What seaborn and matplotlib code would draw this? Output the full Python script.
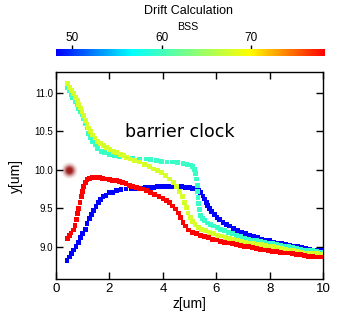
"""Drift calculation: BSS trajectories in the z-y plane (barrier clock)."""

import matplotlib

matplotlib.use("Agg")
import matplotlib.pyplot as plt
import pandas as pd
import seaborn as sns
from matplotlib.cm import ScalarMappable
from matplotlib.colors import LinearSegmentedColormap, Normalize

# ---------------------------------------------------------------------------
# Data
# ---------------------------------------------------------------------------
BSS_RANGE = (48.2, 78.3)
BSS_TICKS = [50, 60, 70]
X_TICKS = [0, 2, 4, 6, 8, 10]
Y_TICKS = [9.0, 9.5, 10.0, 10.5, 11.0]

# trajectory 1 (BSS ~48, blue)
blue_z = [0.41, 0.50, 0.59, 0.66, 0.75, 0.84, 0.91, 1.00, 1.09, 1.16, 1.24, 1.32,
          1.41, 1.50, 1.59, 1.67, 1.76, 1.87, 2.00, 2.12, 2.25, 2.43, 2.62, 2.81,
          3.00, 3.18, 3.35, 3.50, 3.65, 3.80, 3.95, 4.10, 4.25, 4.40, 4.55, 4.70,
          4.85, 5.00, 5.12, 5.24, 5.33, 5.42, 5.50, 5.56, 5.62, 5.68, 5.75, 5.83,
          5.92, 6.02, 6.13, 6.25, 6.38, 6.50, 6.65, 6.80, 6.95, 7.10, 7.25, 7.40,
          7.55, 7.70, 7.85, 8.00, 8.15, 8.30, 8.45, 8.60, 8.75, 8.90, 9.05, 9.20,
          9.35, 9.50, 9.65, 9.80, 9.95]
blue_y = [8.82, 8.87, 8.91, 8.96, 9.01, 9.06, 9.12, 9.17, 9.23, 9.30, 9.37, 9.42,
          9.47, 9.52, 9.57, 9.61, 9.65, 9.67, 9.70, 9.71, 9.73, 9.74, 9.75, 9.76,
          9.76, 9.76, 9.77, 9.77, 9.77, 9.78, 9.78, 9.78, 9.78, 9.78, 9.78, 9.78,
          9.77, 9.77, 9.76, 9.75, 9.73, 9.70, 9.66, 9.62, 9.58, 9.54, 9.50, 9.46,
          9.42, 9.38, 9.35, 9.32, 9.29, 9.27, 9.24, 9.21, 9.19, 9.17, 9.15, 9.13,
          9.12, 9.10, 9.09, 9.08, 9.06, 9.05, 9.04, 9.03, 9.02, 9.01, 9.00, 8.99,
          8.98, 8.97, 8.96, 8.95, 8.95]

# trajectory 2 (BSS ~59.5, turquoise)
cyan_z = [0.44, 0.50, 0.56, 0.62, 0.71, 0.79, 0.85, 0.91, 0.97, 1.04, 1.10, 1.16,
          1.22, 1.29, 1.37, 1.47, 1.56, 1.69, 1.81, 2.00, 2.18, 2.37, 2.62, 2.87,
          3.12, 3.37, 3.55, 3.75, 3.95, 4.15, 4.35, 4.55, 4.75, 4.90, 5.02, 5.12,
          5.19, 5.23, 5.26, 5.28, 5.29, 5.31, 5.33, 5.36, 5.40, 5.47, 5.56, 5.66,
          5.78, 5.90, 6.03, 6.16, 6.30, 6.45, 6.60, 6.75, 6.90, 7.05, 7.20, 7.35,
          7.50, 7.65, 7.80, 7.95, 8.10, 8.25, 8.40, 8.55, 8.70, 8.85, 9.00, 9.15,
          9.30, 9.45, 9.60, 9.75, 9.90, 10.0]
cyan_y = [11.06, 11.02, 10.97, 10.93, 10.88, 10.84, 10.79, 10.75, 10.71, 10.66,
          10.60, 10.54, 10.47, 10.41, 10.36, 10.32, 10.28, 10.24, 10.22, 10.20,
          10.18, 10.17, 10.16, 10.15, 10.14, 10.14, 10.13, 10.12, 10.11, 10.10,
          10.10, 10.09, 10.08, 10.07, 10.06, 10.04, 10.00, 9.95, 9.88, 9.80, 9.72,
          9.64, 9.56, 9.48, 9.41, 9.37, 9.34, 9.31, 9.29, 9.27, 9.25, 9.23, 9.21,
          9.19, 9.17, 9.15, 9.13, 9.11, 9.10, 9.09, 9.08, 9.07, 9.06, 9.05, 9.04,
          9.03, 9.02, 9.01, 9.00, 8.99, 8.98, 8.97, 8.96, 8.95, 8.95, 8.94, 8.93,
          8.93]

# trajectory 3 (BSS ~68, yellow-green)
yellow_z = [0.44, 0.50, 0.59, 0.66, 0.72, 0.79, 0.85, 0.91, 0.97, 1.04, 1.10,
            1.16, 1.22, 1.29, 1.37, 1.46, 1.56, 1.66, 1.77, 1.90, 2.02, 2.15,
            2.27, 2.40, 2.52, 2.65, 2.77, 2.93, 3.12, 3.31, 3.50, 3.65, 3.80,
            3.95, 4.10, 4.25, 4.40, 4.52, 4.62, 4.72, 4.80, 4.87, 4.94, 5.02,
            5.10, 5.20, 5.32, 5.45, 5.60, 5.75, 5.90, 6.05, 6.20, 6.35, 6.50,
            6.65, 6.80, 6.95, 7.10, 7.25, 7.40, 7.55, 7.70, 7.85, 8.00, 8.15,
            8.30, 8.45, 8.60, 8.75, 8.90, 9.05, 9.20, 9.35, 9.50, 9.65, 9.80,
            9.95]
yellow_y = [11.12, 11.07, 11.03, 10.99, 10.94, 10.90, 10.85, 10.80, 10.75, 10.70,
            10.64, 10.59, 10.54, 10.49, 10.45, 10.41, 10.37, 10.34, 10.31, 10.29,
            10.26, 10.24, 10.22, 10.20, 10.18, 10.16, 10.14, 10.12, 10.10, 10.07,
            10.04, 10.01, 9.99, 9.96, 9.92, 9.88, 9.83, 9.78, 9.72, 9.65, 9.58,
            9.51, 9.44, 9.38, 9.33, 9.29, 9.25, 9.23, 9.21, 9.19, 9.17, 9.15, 9.14,
            9.12, 9.11, 9.10, 9.08, 9.07, 9.06, 9.05, 9.04, 9.03, 9.03, 9.02, 9.01,
            9.00, 8.99, 8.98, 8.97, 8.96, 8.95, 8.94, 8.93, 8.92, 8.92, 8.91, 8.91,
            8.90]

# trajectory 4 (BSS ~78, red)
red_z = [0.44, 0.50, 0.56, 0.65, 0.71, 0.77, 0.81, 0.85, 0.90, 0.95, 1.00, 1.04,
         1.10, 1.16, 1.25, 1.37, 1.50, 1.62, 1.75, 1.87, 2.00, 2.12, 2.25, 2.37,
         2.50, 2.62, 2.75, 2.87, 3.00, 3.12, 3.25, 3.40, 3.55, 3.70, 3.85, 4.00,
         4.12, 4.24, 4.36, 4.47, 4.57, 4.66, 4.75, 4.85, 4.97, 5.10, 5.25, 5.40,
         5.55, 5.70, 5.85, 6.00, 6.15, 6.30, 6.45, 6.60, 6.75, 6.90, 7.05, 7.20,
         7.35, 7.50, 7.65, 7.80, 7.95, 8.10, 8.25, 8.40, 8.55, 8.70, 8.85, 9.00,
         9.15, 9.30, 9.45, 9.60, 9.75, 9.90, 10.0]
red_y = [9.11, 9.15, 9.18, 9.22, 9.28, 9.35, 9.43, 9.50, 9.58, 9.65, 9.72, 9.78,
         9.83, 9.87, 9.89, 9.90, 9.90, 9.90, 9.89, 9.88, 9.87, 9.86, 9.86, 9.85,
         9.83, 9.82, 9.80, 9.78, 9.77, 9.76, 9.75, 9.73, 9.70, 9.68, 9.65, 9.63,
         9.60, 9.57, 9.53, 9.49, 9.44, 9.38, 9.32, 9.27, 9.22, 9.19, 9.17, 9.15,
         9.13, 9.12, 9.10, 9.09, 9.07, 9.06, 9.05, 9.04, 9.03, 9.02, 9.01, 9.00,
         8.99, 8.98, 8.97, 8.96, 8.95, 8.94, 8.94, 8.93, 8.92, 8.92, 8.91, 8.90,
         8.90, 8.89, 8.88, 8.88, 8.87, 8.87, 8.87]

CURVES = [
    (blue_z, blue_y, 48.3),
    (cyan_z, cyan_y, 59.5),
    (yellow_z, yellow_y, 67.8),
    (red_z, red_y, 78.2),
]

# start marker (blurred dot)
DOT_Z = [0.5]
DOT_Y = [10.0]

# ---------------------------------------------------------------------------
# Plot
# ---------------------------------------------------------------------------
rows = []
for zs, ys, bss in CURVES:
    rows.append(pd.DataFrame({"z": zs, "y": ys, "bss": bss}))
df = pd.concat(rows, ignore_index=True)

CMAP = LinearSegmentedColormap.from_list(
    "bss_jet",
    [(0.0, "#0000ff"), (0.28, "#00ffff"), (0.5, "#80ff80"),
     (0.72, "#ffff00"), (1.0, "#ff0000")],
)
NORM = Normalize(*BSS_RANGE)

sns.set_style("ticks")
plt.rcParams["font.family"] = ["Liberation Sans", "DejaVu Sans"]
plt.rcParams["text.color"] = "black"
plt.rcParams["axes.labelcolor"] = "black"
plt.rcParams["xtick.color"] = "black"
plt.rcParams["ytick.color"] = "black"

fig = plt.figure(figsize=(3.45, 3.16), dpi=100)
ax = fig.add_axes([0.1623, 0.1161, 0.7748, 0.657])
cax = fig.add_axes([0.1632, 0.8237, 0.7791, 0.0203])

# blurred start dot: stacked translucent discs, lighter towards the rim
for size, alpha in [(150, 0.06), (115, 0.1), (85, 0.16), (60, 0.25),
                    (40, 0.4), (24, 0.6), (12, 0.8)]:
    ax.scatter(DOT_Z, DOT_Y, s=size, color="#9c1a1a", alpha=alpha, lw=0, zorder=2)

sns.scatterplot(data=df, x="z", y="y", hue="bss", palette=CMAP, hue_norm=NORM,
                marker="s", s=12, linewidth=0, legend=False, ax=ax, zorder=3)

ax.set_xlim(0, 10)
ax.set_ylim(8.58, 11.27)
ax.set_xticks(X_TICKS)
ax.set_yticks(Y_TICKS)
ax.set_yticklabels([f"{v:.1f}" for v in Y_TICKS])
ax.tick_params(direction="in", top=True, right=True, length=5, width=1,
               color="black", labelcolor="black")
ax.tick_params(axis="x", labelsize=9.5, pad=3)
ax.tick_params(axis="y", labelsize=7, pad=2)
for sp in ax.spines.values():
    sp.set_visible(True)
    sp.set_linewidth(1)
    sp.set_color("black")
ax.set_xlabel("z[um]", fontsize=10, labelpad=1, color="black")
ax.set_ylabel("y[um]", fontsize=10, labelpad=8, color="black")

ax.text(4.64, 10.49, "barrier clock", fontsize=12.5, family="DejaVu Sans",
        ha="center", va="center", color="black")

# colour bar on top
cb = fig.colorbar(ScalarMappable(norm=NORM, cmap=CMAP), cax=cax,
                  orientation="horizontal")
cb.outline.set_visible(False)
cb.set_ticks(BSS_TICKS)
cax.xaxis.set_ticks_position("top")
cax.tick_params(direction="inout", length=6, width=1, labelsize=8.5, pad=1,
                color="black", labelcolor="black")

fig.text(188 / 345, 1 - 10.7 / 316, "Drift Calculation", fontsize=9,
         ha="center", va="center", color="black")
fig.text(188 / 345, 1 - 27 / 316, "BSS", fontsize=7.7, ha="center",
         va="center", color="black")

fig.savefig("out.png", dpi=100)
plt.close(fig)
